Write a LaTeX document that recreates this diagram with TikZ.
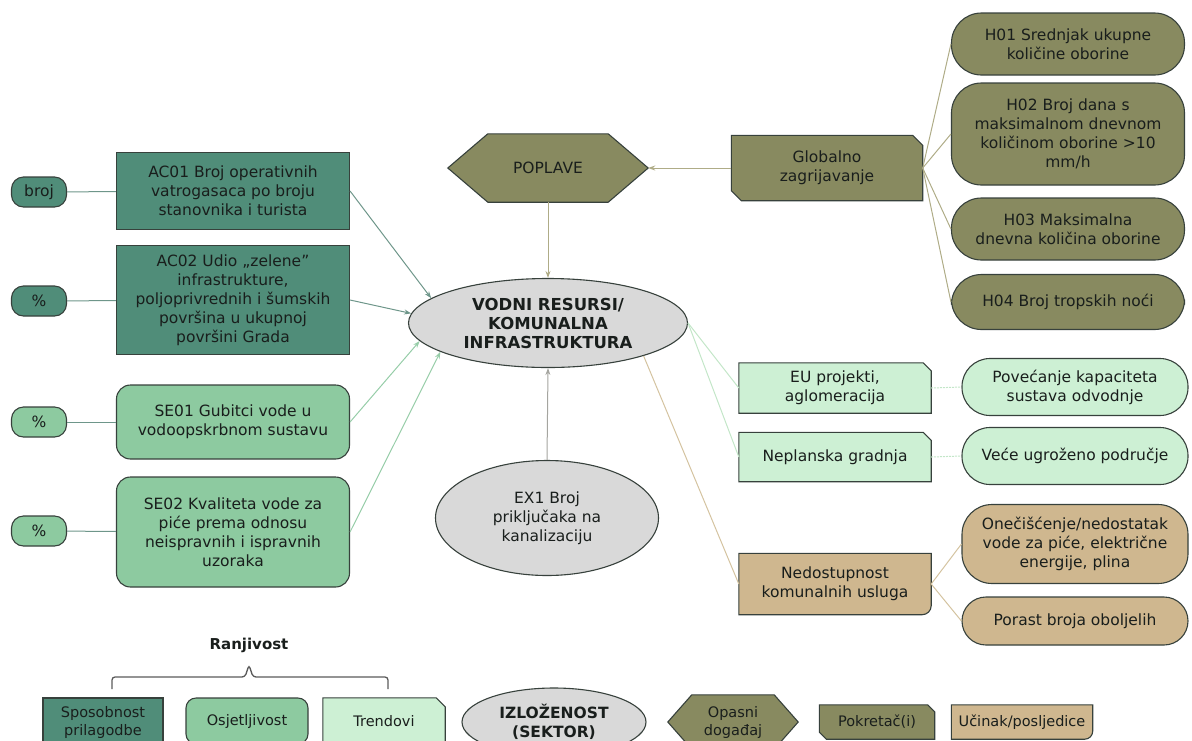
\documentclass[tikz,border=0pt]{standalone}
\usepackage{fontspec}
\setmainfont{DejaVu Sans}
\usetikzlibrary{arrows.meta,calc,shapes.geometric}
\pgfdeclarelayer{bg}
\pgfsetlayers{bg,main}
\definecolor{cDark}{RGB}{80,141,121}
\definecolor{cMid}{RGB}{141,202,160}
\definecolor{cLight}{RGB}{205,240,212}
\definecolor{cGray}{RGB}{217,217,217}
\definecolor{cOlive}{RGB}{136,138,96}
\definecolor{cTan}{RGB}{207,183,143}
\definecolor{bd}{RGB}{55,65,60}
\definecolor{txt}{RGB}{25,30,28}
\definecolor{lnTeal}{RGB}{110,150,138}
\definecolor{lnGreen}{RGB}{150,205,168}
\definecolor{lnPale}{RGB}{195,230,200}
\definecolor{lnOlive}{RGB}{175,172,135}
\definecolor{lnGray}{RGB}{165,165,160}
\definecolor{lnTan}{RGB}{212,195,160}
\definecolor{braceC}{RGB}{90,90,90}
\newcommand\hexfill[3]{\begin{pgfonlayer}{bg}\filldraw[fill=#3,draw=bd,line width=1.1pt] (#1.west) -- ($(#1.north west)+(#2,0)$) -- ($(#1.north east)+(-#2,0)$) -- (#1.east) -- ($(#1.south east)+(-#2,0)$) -- ($(#1.south west)+(#2,0)$) -- cycle;\end{pgfonlayer}}
\newcommand\chamtwo[3]{\begin{pgfonlayer}{bg}\filldraw[fill=#3,draw=bd,line width=1.1pt] (#1.north west) -- ($(#1.north east)+(-#2,0)$) -- ($(#1.north east)+(0,-#2)$) -- (#1.south east) -- ($(#1.south west)+(#2,0)$) -- ($(#1.south west)+(0,#2)$) -- cycle;\end{pgfonlayer}}
\newcommand\chamone[3]{\begin{pgfonlayer}{bg}\filldraw[fill=#3,draw=bd,line width=1.1pt] (#1.north west) -- ($(#1.north east)+(-#2,0)$) -- ($(#1.north east)+(0,-#2)$) -- (#1.south east) -- (#1.south west) -- cycle;\end{pgfonlayer}}
\newcommand\roundone[3]{\begin{pgfonlayer}{bg}\filldraw[fill=#3,draw=bd,line width=1.1pt] (#1.north west) -- (#1.north east) -- ($(#1.south east)+(0,#2)$) arc[start angle=0,end angle=-90,radius=#2] -- (#1.south west) -- cycle;\end{pgfonlayer}}
\tikzset{
  nb/.style={inner sep=0pt, align=center, text=txt, font=\fontsize{15.5}{19}\selectfont},
  lgt/.style={font=\fontsize{14.5}{18}\selectfont},
  bx/.style={nb, draw=bd, line width=1.1pt},
  pill/.style={bx, minimum width=55pt, minimum height=30pt, rounded corners=12pt},
  hpill/.style={bx, fill=cOlive, minimum width=233pt, rounded corners=30pt},
  rpill/.style={bx, minimum width=226pt, rounded corners=28pt},
  arr/.style={-{Stealth[length=7pt,width=5pt]}, line width=1pt},
  ln/.style={line width=1pt},
}
\begin{document}
\begin{tikzpicture}[x=1pt,y=1pt]
\useasboundingbox (0,0) rectangle (1192,-740);
% left column
\node[pill, fill=cDark] (p1) at (39,-192) {broj};
\node[pill, fill=cDark] (p2) at (39,-301) {\%};
\node[pill, fill=cMid] (p3) at (39,-422) {\%};
\node[pill, fill=cMid] (p4) at (39,-531) {\%};
\node[bx, fill=cDark, minimum width=233pt, minimum height=77pt] (ac1) at (233,-191) {AC01 Broj operativnih\\vatrogasaca po broju\\stanovnika i turista};
\node[bx, fill=cDark, minimum width=233pt, minimum height=109pt] (ac2) at (233,-300) {AC02 Udio „zelene”\\infrastrukture,\\poljoprivrednih i šumskih\\površina u ukupnoj\\površini Grada};
\node[bx, fill=cMid, minimum width=233pt, minimum height=74pt, rounded corners=14pt] (se1) at (233,-422) {SE01 Gubitci vode u\\vodoopskrbnom sustavu};
\node[bx, fill=cMid, minimum width=233pt, minimum height=110pt, rounded corners=14pt] (se2) at (233,-532) {SE02 Kvaliteta vode za\\piće prema odnosu\\neispravnih i ispravnih\\uzoraka};
% centre
\node[bx, ellipse, fill=cGray, minimum width=279pt, minimum height=89pt, font=\fontsize{16.5}{19}\selectfont\bfseries] (vr) at (548,-323) {VODNI RESURSI/\\KOMUNALNA\\INFRASTRUKTURA};
\node[nb, minimum width=200pt, minimum height=68pt] (pop) at (548,-168) {POPLAVE};
\hexfill{pop}{40}{cOlive}
\node[bx, ellipse, fill=cGray, minimum width=223pt, minimum height=115pt] (ex) at (547,-518) {EX1 Broj\\priključaka na\\kanalizaciju};
% drivers / hazards
\node[nb, minimum width=191pt, minimum height=65pt] (glob) at (827,-168) {Globalno\\zagrijavanje};
\chamtwo{glob}{10}{cOlive}
\node[hpill, minimum height=62pt] (h1) at (1068,-44) {H01 Srednjak ukupne\\količine oborine};
\node[hpill, minimum height=102pt] (h2) at (1068,-134) {H02 Broj dana s\\maksimalnom dnevnom\\količinom oborine >10\\mm/h};
\node[hpill, minimum height=62pt] (h3) at (1068,-229) {H03 Maksimalna\\dnevna količina oborine};
\node[hpill, minimum height=55pt] (h4) at (1068,-302) {H04 Broj tropskih noći};
% trends / impacts
\node[nb, minimum width=192pt, minimum height=50pt] (eu) at (835,-388) {EU projekti,\\aglomeracija};
\chamone{eu}{8}{cLight}
\node[nb, minimum width=192pt, minimum height=49pt] (np) at (835,-457) {Neplanska gradnja};
\chamone{np}{8}{cLight}
\node[rpill, fill=cLight, minimum height=57pt] (pov) at (1075,-387) {Povećanje kapaciteta\\sustava odvodnje};
\node[rpill, fill=cLight, minimum height=57pt] (vec) at (1075,-456) {Veće ugroženo područje};
\node[nb, minimum width=192pt, minimum height=61pt] (ned) at (835,-584) {Nedostupnost\\komunalnih usluga};
\roundone{ned}{9}{cTan}
\node[rpill, fill=cTan, minimum height=79pt, rounded corners=30pt] (one) at (1075,-544) {Onečišćenje/nedostatak\\vode za piće, električne\\energije, plina};
\node[rpill, fill=cTan, minimum height=48pt, rounded corners=24pt] (por) at (1075,-621) {Porast broja oboljelih};
% connectors
\draw[ln, lnTeal] (p1) -- (ac1);
\draw[ln, lnTeal] (p2) -- (ac2);
\draw[ln, lnTeal] (p3) -- (se1);
\draw[ln, lnTeal] (p4) -- (se2);
\draw[arr, lnTeal] (ac1.east) -- (vr.168);
\draw[arr, lnTeal] (ac2.east) -- (vr.176);
\draw[arr, lnGreen] (se1.east) -- (vr.188);
\draw[arr, lnGreen] (se2.east) -- (vr.195);
\draw[arr, lnOlive] (pop.south) -- (vr.north);
\draw[arr, lnGray] (ex.north) -- (vr.south);
\draw[arr, lnOlive] (glob.west) -- (pop.east);
\draw[ln, lnOlive] (glob.east) -- (h1.west);
\draw[ln, lnOlive] (glob.east) -- (h2.west);
\draw[ln, lnOlive] (glob.east) -- (h3.west);
\draw[ln, lnOlive] (glob.east) -- (h4.west);
\draw[ln, lnPale] (vr.east) -- (eu.west);
\draw[ln, lnPale] (vr.east) -- (np.west);
\draw[ln, lnTan] (vr.-19) -- (ned.west);
\draw[ln, lnPale, dash pattern=on 2pt off 1pt] (eu.east) -- (pov.west);
\draw[ln, lnPale, dash pattern=on 2pt off 1pt] (np.east) -- (vec.west);
\draw[ln, lnTan] (ned.east) -- (one.west);
\draw[ln, lnTan] (ned.east) -- (por.west);
% legend
\node[nb, font=\fontsize{15}{19}\selectfont\bfseries] (ranj) at (249,-645) {Ranjivost};
\coordinate (brL) at (112,-689);
\coordinate (brR) at (388,-689);
\coordinate (brT) at (249,-665);
\draw[braceC, line width=1.3pt, rounded corners=3pt] (brL) -- ++(0,12) -- (245,-677) -- (brT) -- (253,-677) -- ($(brR)+(0,12)$) -- (brR);
\node[bx, lgt, fill=cDark, minimum width=120pt, minimum height=48pt] (lg1) at (103,-722) {Sposobnost\\prilagodbe};
\node[bx, lgt, fill=cMid, minimum width=122pt, minimum height=46pt, rounded corners=10pt] (lg2) at (247,-721) {Osjetljivost};
\node[nb, lgt, minimum width=122pt, minimum height=46pt] (lg3) at (384,-721) {Trendovi};
\chamone{lg3}{9}{cLight}
\node[bx, ellipse, fill=cGray, minimum width=184pt, minimum height=68pt, font=\fontsize{15.5}{19}\selectfont\bfseries] (lg4) at (554,-722) {IZLOŽENOST\\(SEKTOR)};
\node[nb, lgt, minimum width=130pt, minimum height=54pt] (lg5) at (733,-722) {Opasni\\događaj};
\hexfill{lg5}{24}{cOlive}
\node[nb, lgt, minimum width=115pt, minimum height=34pt] (lg6) at (877,-722) {Pokretač(i)};
\chamtwo{lg6}{7}{cOlive}
\node[nb, lgt, minimum width=141pt, minimum height=34pt] (lg7) at (1022,-722) {Učinak/posljedice};
\roundone{lg7}{8}{cTan}
\end{tikzpicture}
\end{document}
